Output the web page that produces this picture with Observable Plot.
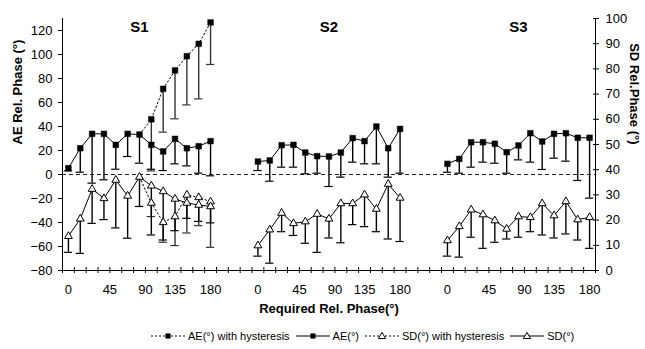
<!DOCTYPE html>
<html>
<head>
<meta charset="utf-8">
<script src="https://cdn.jsdelivr.net/npm/d3@7"></script>
<script src="https://cdn.jsdelivr.net/npm/@observablehq/plot@0.6"></script>
<style>
  body { margin: 0; background: #fff; font-family: "Liberation Sans", Arial, sans-serif; }
  #legend { display: flex; align-items: center; height: 27px; padding-left: 150px; font-size: 11px; color: #000; white-space: nowrap; }
  #legend .item { display: flex; align-items: center; margin-right: 5px; }
  #legend svg { margin-right: 2px; }
</style>
</head>
<body>
<div id="chart"></div>
<div id="legend"></div>
<script>
// ---- data ----
const panels = ["S1", "S2", "S3"];
const reqPhase = [0, 15, 30, 45, 60, 75, 90, 105, 120, 135, 150, 165, 180];
const xTickLabels = ["0", "45", "90", "135", "180"];
const xTickLabelPos = [0, 3.5, 6.5, 9, 12];          // category positions of the labels
const aeTicks = [-80, -60, -40, -20, 0, 20, 40, 60, 80, 100, 120];
const sdTicks = [0, 10, 20, 30, 40, 50, 60, 70, 80, 90, 100];

// AE (deg) mean and lower end of error bar, left axis
const s1AE    = [5.3, 21.9, 33.9, 33.9, 24.7, 33.9, 33.3, 24.7, 19.2, 29.7, 21.9, 23.6, 27.8];
const s1AELow = [3, 1.9, -7.2, -4.4, 4.4, 15, 9.4, 4.4, 3.3, 8.9, 7.2, 1.1, -1.1];
const s2AE    = [10.8, 11.7, 24.4, 24.7, 18.3, 15.3, 15.0, 18.3, 30.3, 27.8, 40.0, 21.9, 38.0];
const s2AELow = [3.3, -5.6, 6.1, 6.1, 0.6, 1.1, -10, -2.2, 10.3, 8.9, 8.9, -2.2, 1.1];
const s3AE    = [8.9, 13.0, 26.9, 26.9, 25.6, 18.6, 24.2, 34.4, 27.5, 33.9, 34.4, 30.6, 30.6];
const s3AELow = [1.9, 1.1, 6.1, 10.3, 9.4, 1.1, 12.2, 10.3, 4.2, 13.6, 11.1, -5, -19.7];

// SD (deg) mean and lower end of error bar, right axis
const s1SD    = [13.6, 20.5, 32.3, 28.6, 35.9, 29.6, 37.1, 33.6, 31.4, 28.4, 26.8, 26.0, 25.4];
const s1SDLow = [7.2, 6.8, 18.7, 20.2, 16.9, 12.8, 25.4, 14.1, 12.1, 15.8, 20.7, 19.5, 18.9];
const s2SD    = [9.9, 16.2, 22.8, 18.7, 19.4, 22.4, 20.5, 26.6, 26.6, 30.1, 24.4, 34.3, 28.8];
const s2SDLow = [5.7, 2.9, 15.4, 13.9, 10.8, 7.2, 12.9, 11.0, 18.2, 17.4, 15.4, 12.5, 11.5];
const s3SD    = [11.9, 17.5, 24.1, 22.2, 19.8, 16.5, 21.4, 21.1, 26.6, 21.8, 27.4, 20.2, 21.1];
const s3SDLow = [5.7, 5.3, 13.2, 8.8, 11.2, 12.5, 13.2, 15.4, 14.1, 12.9, 14.5, 12.1, 8.8];

// S1 with hysteresis (required phase 90..180)
const hystPhase    = [90, 105, 120, 135, 150, 165, 180];
const s1AEHyst     = [33.3, 46, 71.4, 86.7, 98.6, 108.9, 126.7];
const s1AEHystLow  = [null, 3, 35.3, 46.4, 58, 63, 91.7];
const s1SDHyst     = [37.1, 26.8, 19.1, 21.4, 30.0, 29.0, 27.3];
const s1SDHystLow  = [null, 21.4, 11.2, 9.9, 14.9, 17.8, 9.2];

// ---- build tables ----
const gap = 3; // empty categories between subjects
const stride = reqPhase.length + gap;
const toLeft = sd => -80 + 2.1 * sd;   // right axis (0..100) onto left axis (-80..130)
const xOf = (p, phase) => p * stride + reqPhase.indexOf(phase);

const series = [
  [s1AE, s1AELow, s1SD, s1SDLow],
  [s2AE, s2AELow, s2SD, s2SDLow],
  [s3AE, s3AELow, s3SD, s3SDLow]
];
const rows = [];
series.forEach(([ae, aeLow, sd, sdLow], p) => {
  reqPhase.forEach((ph, i) => rows.push({
    panel: panels[p], x: xOf(p, ph), ae: ae[i], aeLow: aeLow[i], sd: toLeft(sd[i]), sdLow: toLeft(sdLow[i])
  }));
});
const hyst = hystPhase.map((ph, i) => ({
  x: xOf(0, ph), ae: s1AEHyst[i], aeLow: s1AEHystLow[i],
  sd: toLeft(s1SDHyst[i]), sdLow: s1SDHystLow[i] == null ? null : toLeft(s1SDHystLow[i])
}));
const hystBars = hyst.filter(d => d.aeLow != null);

const nCat = panels.length * stride - gap;
const bounds = d3.range(nCat + 1).map(i => i - 0.5);
const labelPos = [];
const labelMap = new Map();
panels.forEach((p, k) => xTickLabelPos.forEach((pos, j) => {
  const v = k * stride + pos; labelPos.push(v); labelMap.set(v, xTickLabels[j]);
}));
const titleX = panels.map((p, k) => k * stride + 6);

const capW = 0.35;
const font = "Liberation Sans, Arial, Helvetica, sans-serif";

const chart = Plot.plot({
  width: 645,
  height: 322,
  marginLeft: 62,
  marginRight: 50,
  marginTop: 18,
  marginBottom: 52,
  style: { fontFamily: font, fontSize: "13px", color: "#000", background: "#fff", overflow: "visible" },
  x: { type: "linear", domain: [-0.5, nCat - 0.5], axis: null },
  y: { type: "linear", domain: [-80, 130], axis: null },
  marks: [
    Plot.ruleY([0], { stroke: "#222", strokeDasharray: "4,3" }),
    Plot.ruleX([-0.5, nCat - 0.5], { stroke: "#000" }),
    Plot.ruleY([-80], { stroke: "#000" }),
    Plot.axisX({ ticks: bounds, tickSize: 6, dy: -3, tickFormat: () => "", label: null }),
    Plot.axisX({ ticks: labelPos, tickSize: 0, tickPadding: 14, tickFormat: d => labelMap.get(d), label: null, fontSize: 13 }),
    Plot.axisY({ anchor: "left", ticks: aeTicks, tickSize: 4, tickPadding: 6, label: null, fontSize: 13 }),
    Plot.axisY({ anchor: "right", ticks: sdTicks.map(toLeft), tickSize: 6, dx: -3, tickPadding: 7,
                 tickFormat: d => String(Math.round((d + 80) / 2.1)), label: null, fontSize: 13 }),
    // error bars
    Plot.ruleX(hystBars, { x: "x", y1: "ae", y2: "aeLow", stroke: "#333", strokeWidth: 1.4 }),
    Plot.ruleY(hystBars, { y: "aeLow", x1: d => d.x - capW, x2: d => d.x + capW, stroke: "#333", strokeWidth: 1.2 }),
    Plot.ruleX(hystBars, { x: "x", y1: "sd", y2: "sdLow", stroke: "#333", strokeWidth: 1.4 }),
    Plot.ruleY(hystBars, { y: "sdLow", x1: d => d.x - capW, x2: d => d.x + capW, stroke: "#333", strokeWidth: 1.2 }),
    Plot.ruleX(rows, { x: "x", y1: "ae", y2: "aeLow", stroke: "#000", strokeWidth: 1.4 }),
    Plot.ruleY(rows, { y: "aeLow", x1: d => d.x - capW, x2: d => d.x + capW, stroke: "#000", strokeWidth: 1.2 }),
    Plot.ruleX(rows, { x: "x", y1: "sd", y2: "sdLow", stroke: "#000", strokeWidth: 1.4 }),
    Plot.ruleY(rows, { y: "sdLow", x1: d => d.x - capW, x2: d => d.x + capW, stroke: "#000", strokeWidth: 1.2 }),
    // lines
    Plot.line(hyst, { x: "x", y: "ae", stroke: "#000", strokeWidth: 1, strokeDasharray: "1.5,2.5" }),
    Plot.line(hyst, { x: "x", y: "sd", stroke: "#000", strokeWidth: 1, strokeDasharray: "1.5,2.5" }),
    Plot.line(rows, { x: "x", y: "ae", z: "panel", stroke: "#000", strokeWidth: 1 }),
    Plot.line(rows, { x: "x", y: "sd", z: "panel", stroke: "#000", strokeWidth: 1 }),
    // symbols
    Plot.dot(hyst.slice(1), { x: "x", y: "ae", symbol: "square", r: 3.2, fill: "#000", stroke: "#000", strokeWidth: 0.5 }),
    Plot.dot(hyst.slice(1), { x: "x", y: "sd", symbol: "triangle", r: 2.9, fill: "#fff", stroke: "#000", strokeWidth: 1 }),
    Plot.dot(rows, { x: "x", y: "ae", symbol: "square", r: 3.2, fill: "#000", stroke: "#000", strokeWidth: 0.5 }),
    Plot.dot(rows, { x: "x", y: "sd", symbol: "triangle", r: 2.9, fill: "#fff", stroke: "#000", strokeWidth: 1 }),
    // titles
    Plot.text(panels, { x: (d, i) => titleX[i], text: d => d, frameAnchor: "top", dy: 3, fontWeight: "bold", fontSize: 15 }),
    Plot.text(["AE Rel. Phase (°)"], { text: d => d, frameAnchor: "left", dx: -45, rotate: -90, fontWeight: "bold", fontSize: 13 }),
    Plot.text(["SD Rel.Phase (°)"], { text: d => d, frameAnchor: "right", dx: 39, rotate: 90, fontWeight: "bold", fontSize: 13 }),
    Plot.text(["Required Rel. Phase(°)"], { text: d => d, frameAnchor: "bottom", dy: 42, fontWeight: "bold", fontSize: 13 })
  ]
});
document.getElementById("chart").appendChild(chart);

// ---- legend ----
const legendItems = [
  { label: "AE(°) with hysteresis", dash: "2,2", sym: "square" },
  { label: "AE(°)", dash: null, sym: "square" },
  { label: "SD(°) with hysteresis", dash: "2,2", sym: "triangle" },
  { label: "SD(°)", dash: null, sym: "triangle" }
];
const legend = d3.select("#legend");
legendItems.forEach(it => {
  const item = legend.append("div").attr("class", "item");
  const s = item.append("svg").attr("width", 36).attr("height", 12);
  s.append("line").attr("x1", 1).attr("x2", 35).attr("y1", 6).attr("y2", 6)
    .attr("stroke", "#000").attr("stroke-width", 1.2).attr("stroke-dasharray", it.dash);
  if (it.sym === "square") {
    s.append("path").attr("d", d3.symbol(d3.symbolSquare, 26)()).attr("transform", "translate(18,6)").attr("fill", "#000");
  } else {
    s.append("path").attr("d", d3.symbol(d3.symbolTriangle, 22)()).attr("transform", "translate(18,6.5)")
      .attr("fill", "#fff").attr("stroke", "#000");
  }
  item.append("span").text(it.label);
});
</script>
</body>
</html>
